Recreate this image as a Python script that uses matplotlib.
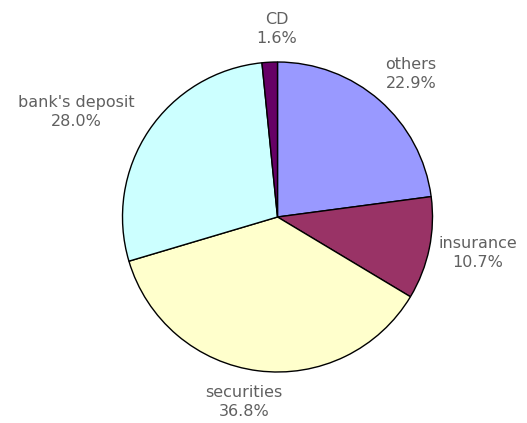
import matplotlib.pyplot as plt

# データ
labels = ["others", "insurance", "securities", "bank's deposit", "CD"]
shares = [22.9, 10.7, 36.8, 28.0, 1.6]
colors = ["#9999FF", "#993366", "#FFFFCC", "#CCFFFF", "#660066"]

# ラベル位置（画像ピクセル座標, 上が0）
label_pos = [(411, 74), (478, 253), (244, 402), (76, 112), (277, 29)]

W, H = 527, 423
fig = plt.figure(figsize=(W / 100, H / 100), dpi=100)
ax = fig.add_axes([0, 0, 1, 1])

ax.pie(shares, colors=colors, startangle=90, counterclock=False,
       center=(277.5, H - 217), radius=155,
       wedgeprops=dict(edgecolor="black", linewidth=1.0), frame=True)

for name, val, (px, py) in zip(labels, shares, label_pos):
    ax.text(px, H - py, f"{name}\n{val:.1f}%", ha="center", va="center",
            fontsize=11.5, color="#606060", linespacing=1.3,
            fontfamily="DejaVu Sans")

ax.set_xlim(0, W)
ax.set_ylim(0, H)
ax.set_aspect("equal")
ax.axis("off")

fig.savefig("out.png", dpi=100, facecolor="white")
